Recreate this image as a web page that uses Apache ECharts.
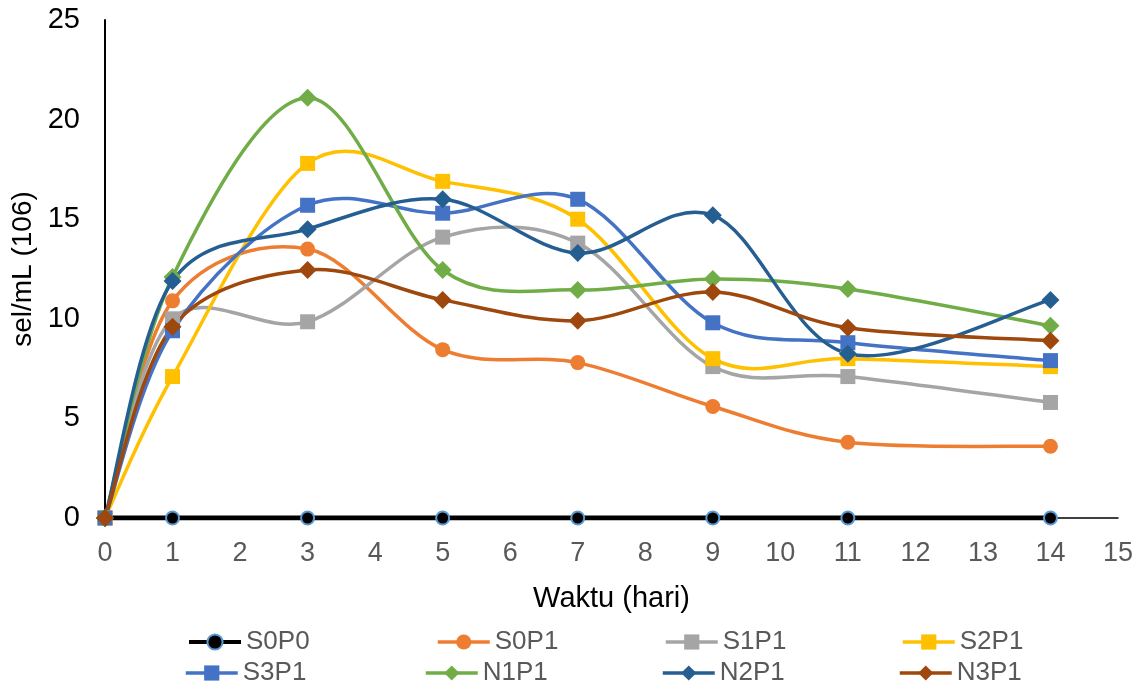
<!DOCTYPE html>
<html>
<head>
<meta charset="utf-8">
<script src="https://cdn.jsdelivr.net/npm/echarts@6/dist/echarts.min.js"></script>
<style>
  html, body { margin: 0; padding: 0; background: #fff; }
  #chart { width: 1140px; height: 692px; }
</style>
</head>
<body>
<div id="chart"></div>
<script>
// hari pengamatan
const days = [0, 1, 3, 5, 7, 9, 11, 14];

const seriesNames = ['S0P0', 'S0P1', 'S1P1', 'S2P1', 'S3P1', 'N1P1', 'N2P1', 'N3P1'];

const s0p0 = [0, 0, 0, 0, 0, 0, 0, 0];
const s0p1 = [0, 10.9, 13.5, 8.45, 7.8, 5.6, 3.8, 3.6];
const s1p1 = [0, 10.0, 9.85, 14.1, 13.8, 7.6, 7.1, 5.8];
const s2p1 = [0, 7.1, 17.8, 16.9, 15.0, 8.0, 8.0, 7.6];
const s3p1 = [0, 9.4, 15.7, 15.3, 16.0, 9.8, 8.8, 7.9];
const n1p1 = [0, 12.1, 21.1, 12.45, 11.45, 12.0, 11.5, 9.65];
const n2p1 = [0, 11.9, 14.5, 16.0, 13.3, 15.2, 8.25, 10.95];
const n3p1 = [0, 9.6, 12.45, 10.95, 9.9, 11.35, 9.55, 8.9];

const values = [s0p0, s0p1, s1p1, s2p1, s3p1, n1p1, n2p1, n3p1];
const colors = ['#000000', '#ED7D31', '#A5A5A5', '#FFC000', '#4472C4', '#70AD47', '#255E91', '#9E480E'];
const symbols = ['circle', 'circle', 'rect', 'rect', 'rect', 'diamond', 'diamond', 'diamond'];

const chart = echarts.init(document.getElementById('chart'));
const font = 'Liberation Sans';

// kurva halus ala Excel (Catmull-Rom -> Bezier), titik dari skala sumbu
function curveItem(vals, color) {
  return function (params, api) {
    const p = days.map((d, k) => api.coord([d, vals[k]]));
    const n = p.length;
    let d = 'M' + p[0][0] + ' ' + p[0][1];
    for (let i = 0; i < n - 1; i++) {
      const p0 = p[Math.max(i - 1, 0)];
      const p1 = p[i];
      const p2 = p[i + 1];
      const p3 = p[Math.min(i + 2, n - 1)];
      const c1x = p1[0] + (p2[0] - p0[0]) / 6;
      const c1y = p1[1] + (p2[1] - p0[1]) / 6;
      const c2x = p2[0] - (p3[0] - p1[0]) / 6;
      const c2y = p2[1] - (p3[1] - p1[1]) / 6;
      d += ' C' + c1x + ' ' + c1y + ' ' + c2x + ' ' + c2y + ' ' + p2[0] + ' ' + p2[1];
    }
    return {
      type: 'path',
      shape: { pathData: d },
      style: { stroke: color, lineWidth: 3.5, fill: 'none' }
    };
  };
}

const series = [];
seriesNames.forEach((name, i) => {
  if (i === 0) {
    series.push({
      name: name,
      type: 'line',
      data: days.map((d, k) => [d, values[i][k]]),
      symbol: 'circle',
      symbolSize: 13,
      lineStyle: { color: '#000', width: 5 },
      itemStyle: { color: '#000', borderColor: '#5B9BD5', borderWidth: 2 },
      z: 3
    });
    return;
  }
  series.push({
    name: name + ' kurva',
    type: 'custom',
    coordinateSystem: 'cartesian2d',
    data: [[0, 0]],
    silent: true,
    renderItem: curveItem(values[i], colors[i]),
    z: 2
  });
  series.push({
    name: name,
    type: 'line',
    data: days.map((d, k) => [d, values[i][k]]),
    symbol: symbols[i],
    symbolSize: symbols[i] === 'diamond' ? 18 : 15,
    lineStyle: { color: colors[i], width: 3.5, opacity: 0 },
    itemStyle: { color: colors[i] },
    z: 3
  });
});

// legenda 2 baris x 4 kolom
const legendLeft = [[182, 431, 659, 896], [179, 419, 656, 893]];
const legendTop = [624, 655];
const legends = seriesNames.map((name, i) => ({
  data: [name],
  left: legendLeft[Math.floor(i / 4)][i % 4],
  top: legendTop[Math.floor(i / 4)],
  itemWidth: 52,
  itemHeight: 19,
  lineStyle: { opacity: 1, width: i === 0 ? 4 : 3.5 },
  textStyle: { fontFamily: font, fontSize: 26, color: '#595959' }
}));

chart.setOption({
  animation: false,
  color: colors,
  grid: { left: 105, right: 22, top: 20, bottom: 174 },
  legend: legends,
  xAxis: {
    type: 'value',
    min: 0,
    max: 15,
    interval: 1,
    name: 'Waktu (hari)',
    nameLocation: 'middle',
    nameGap: 66,
    nameTextStyle: { fontFamily: font, fontSize: 29, color: '#000' },
    axisLine: { show: true, lineStyle: { color: '#000', width: 1.5 } },
    axisTick: { show: false },
    splitLine: { show: false },
    axisLabel: { fontFamily: font, fontSize: 27, color: '#595959', margin: 22 }
  },
  yAxis: {
    type: 'value',
    min: 0,
    max: 25,
    interval: 5,
    name: 'sel/mL (106)',
    nameLocation: 'middle',
    nameGap: 53,
    nameTextStyle: { fontFamily: font, fontSize: 28, color: '#000' },
    axisLine: { show: true, lineStyle: { color: '#000', width: 2 } },
    axisTick: { show: false },
    splitLine: { show: false },
    axisLabel: { fontFamily: font, fontSize: 29, color: '#000', margin: 25 }
  },
  series: series
});
</script>
</body>
</html>
